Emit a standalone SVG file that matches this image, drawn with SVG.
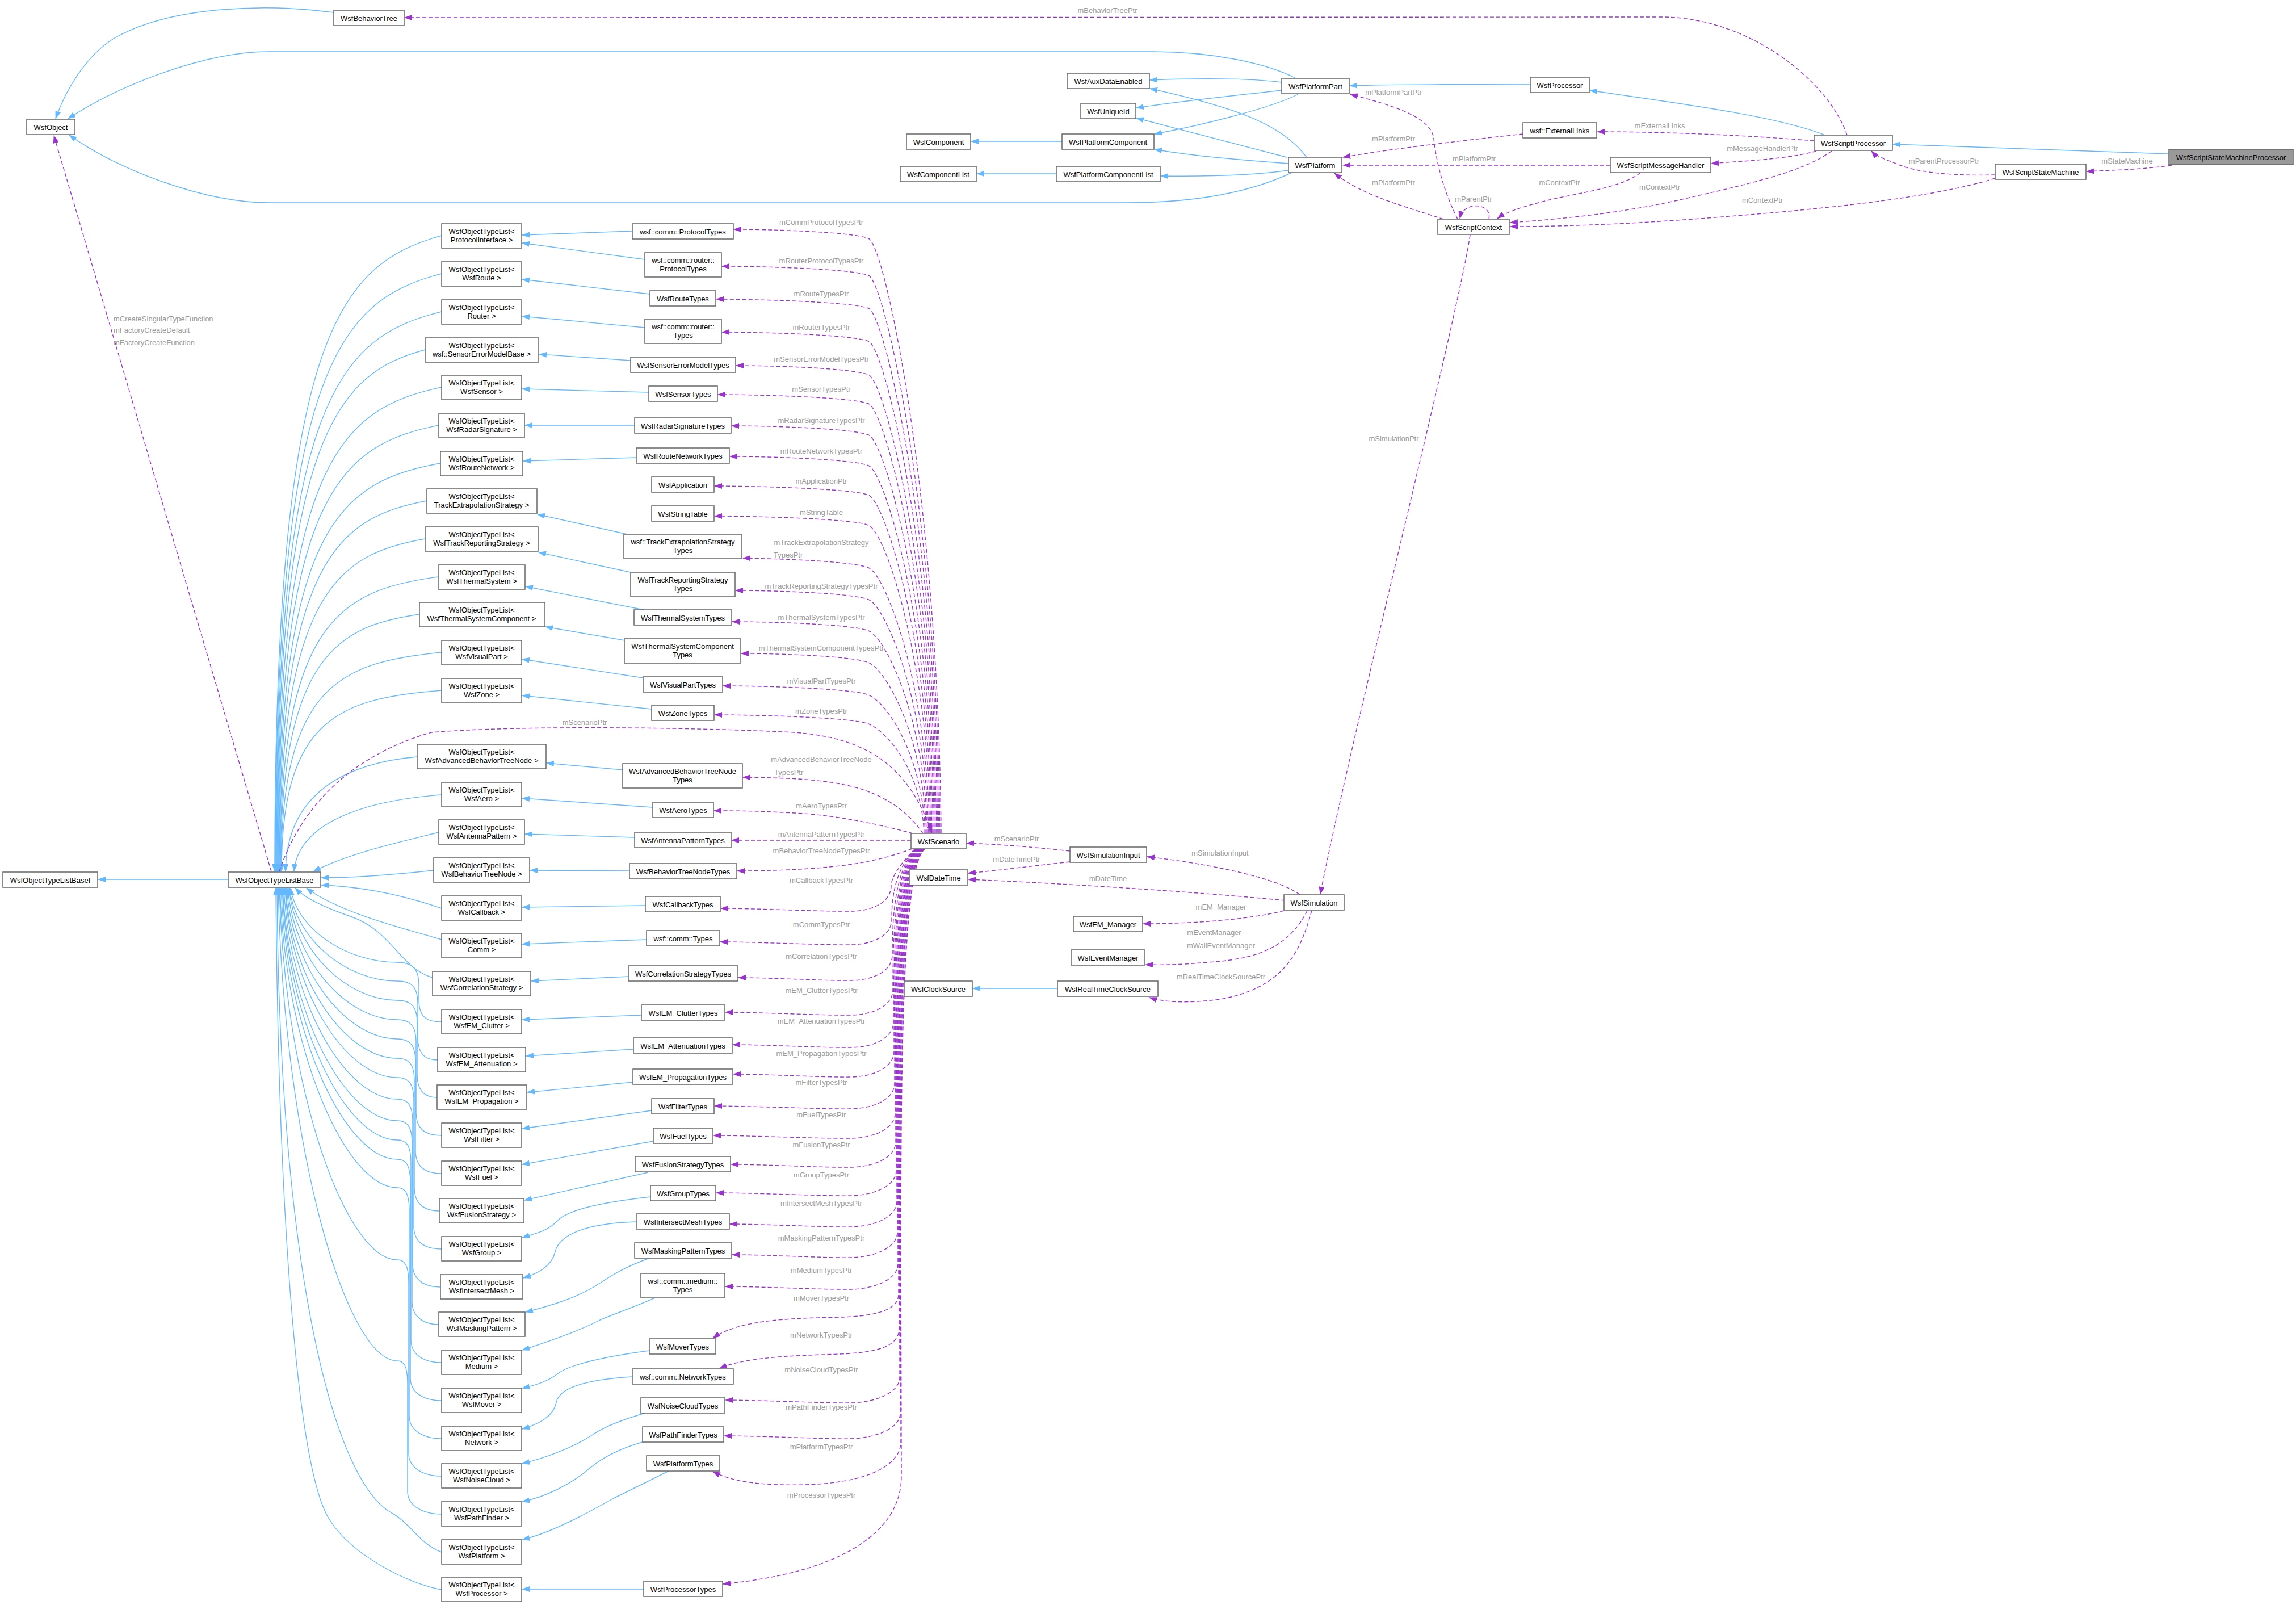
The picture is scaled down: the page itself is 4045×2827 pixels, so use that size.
<svg xmlns="http://www.w3.org/2000/svg" width="4045" height="2827" viewBox="0 0 4045 2827">
<style>
.n rect{fill:#fff;stroke:#666;stroke-width:1.5}
.n .h{fill:#999}
.n text{font-family:"Liberation Sans",Arial,sans-serif;font-size:13px;text-anchor:middle;fill:#000}
.e{fill:none;stroke:#63b8ff;stroke-width:1.4;marker-end:url(#ab)}
.d{fill:none;stroke:#9a32cd;stroke-width:1.4;stroke-dasharray:7,4;marker-end:url(#ap)}
.l{font-family:"Liberation Sans",Arial,sans-serif;font-size:13px;text-anchor:middle;fill:#9a9a9a}
.ls{font-family:"Liberation Sans",Arial,sans-serif;font-size:13px;text-anchor:start;fill:#9a9a9a}
</style>
<defs>
<marker id="ab" viewBox="0 0 14 10" refX="13" refY="5" markerWidth="14" markerHeight="10" markerUnits="userSpaceOnUse" orient="auto"><path d="M0,0 L14,5 L0,10 z" fill="#63b8ff"/></marker>
<marker id="ap" viewBox="0 0 14 10" refX="13" refY="5" markerWidth="14" markerHeight="10" markerUnits="userSpaceOnUse" orient="auto"><path d="M0,0 L14,5 L0,10 z" fill="#9a32cd"/></marker>
</defs>
<rect width="4045" height="2827" fill="#fff"/>
<g id="connectors">
<!-- top inheritance -->
<path class="e" d="M 588,22 C 470,6 300,10 200,68 C 150,100 115,160 98,209"/>
<path class="e" d="M 2283,138 C 2230,110 2130,91 2030,91 L 474,91 C 360,91 210,150 120,209"/>
<path class="e" d="M 2276,304 C 2200,340 2100,357 1985,357 L 474,357 C 360,357 210,300 122,238"/>
<path class="e" d="M 2258,145 C 2200,137 2100,138 2026,141"/>
<path class="e" d="M 2258,159 C 2180,168 2080,178 2002,190"/>
<path class="e" d="M 2287,166 C 2240,190 2120,220 2034,236"/>
<path class="e" d="M 2302,277 C 2260,220 2180,190 2026,156"/>
<path class="e" d="M 2267,277 L 2002,208"/>
<path class="e" d="M 2270,288 C 2200,283 2100,275 2034,263"/>
<path class="e" d="M 2270,300 C 2200,310 2120,311 2045,310"/>
<path class="e" d="M 1871,249 L 1711,249"/>
<path class="e" d="M 1861,306 L 1721,306"/>
<path class="e" d="M 2696,149 C 2600,148 2450,149 2378,151"/>
<path class="e" d="M 3215,238 C 3120,200 2900,175 2801,159"/>
<path class="e" d="M 3821,271 L 3335,254"/>
<path class="e" d="M 402,1549 L 173,1549"/>
<path class="e" d="M 1863,1741 L 1714,1741"/>
<!-- types to lists -->
<path class="e" d="M 1114,407 L 920,414"/>
<path class="e" d="M 1136,457 L 920,428"/>
<path class="e" d="M 1145,518 L 920,492"/>
<path class="e" d="M 1136,577 L 920,557"/>
<path class="e" d="M 1111,635 L 950,624"/>
<path class="e" d="M 1143,691 L 920,685"/>
<path class="e" d="M 1118,749 L 925,749"/>
<path class="e" d="M 1121,806 L 922,812"/>
<path class="e" d="M 1105,941 L 947,906"/>
<path class="e" d="M 1111,1008 L 949,973"/>
<path class="e" d="M 1134,1074 L 926,1033"/>
<path class="e" d="M 1101,1128 L 961,1104"/>
<path class="e" d="M 1133,1194 L 920,1161"/>
<path class="e" d="M 1148,1249 L 920,1225"/>
<path class="e" d="M 1097,1356 L 963,1344"/>
<path class="e" d="M 1150,1422 L 920,1406"/>
<path class="e" d="M 1118,1475 L 925,1469"/>
<path class="e" d="M 1109,1534 L 934,1533"/>
<path class="e" d="M 1137,1595 L 920,1598"/>
<path class="e" d="M 1139,1655 L 920,1663"/>
<path class="e" d="M 1107,1720 L 936,1728"/>
<path class="e" d="M 1130,1788 L 920,1796"/>
<path class="e" d="M 1116,1848 L 927,1860"/>
<path class="e" d="M 1115,1906 L 929,1924"/>
<path class="e" d="M 1148,1956 L 920,1988"/>
<path class="e" d="M 1151,2010 L 920,2051"/>
<path class="e" d="M 1142,2065 L 924,2114"/>
<path class="e" d="M 1146,2108 C 1060,2118 1000,2130 980,2152 C 965,2168 945,2172 920,2180"/>
<path class="e" d="M 1121,2152 C 1030,2155 985,2175 978,2205 C 972,2230 950,2242 922,2251"/>
<path class="e" d="M 1144,2216 C 1100,2232 1080,2245 1057,2260 C 1020,2285 970,2300 926,2311"/>
<path class="e" d="M 1154,2286 C 1110,2305 1080,2315 1057,2325 C 1020,2345 960,2365 920,2378"/>
<path class="e" d="M 1144,2379 C 1060,2390 1000,2405 982,2420 C 965,2433 945,2440 920,2445"/>
<path class="e" d="M 1114,2425 C 1030,2430 985,2445 980,2470 C 975,2495 950,2508 920,2517"/>
<path class="e" d="M 1136,2489 C 1100,2500 1070,2510 1044,2527 C 1010,2550 960,2568 920,2578"/>
<path class="e" d="M 1132,2540 C 1090,2552 1060,2568 1038,2587 C 1005,2615 960,2637 920,2645"/>
<path class="e" d="M 1178,2591 C 1140,2610 1110,2625 1083,2638 C 1030,2668 970,2700 920,2712"/>
<path class="e" d="M 1134,2799 L 920,2799"/>
<!-- lists to base -->
<path class="e" d="M 778,415 C 600,465 484,583 484,1535"/>
<path class="e" d="M 778,482 C 600,529 485,640 485,1535"/>
<path class="e" d="M 778,549 C 600,593 486,697 486,1535"/>
<path class="e" d="M 749,616 C 600,657 487,754 487,1535"/>
<path class="e" d="M 778,682 C 600,720 488,810 488,1535"/>
<path class="e" d="M 773,749 C 600,784 489,867 489,1535"/>
<path class="e" d="M 776,816 C 600,848 490,924 490,1535"/>
<path class="e" d="M 752,882 C 600,911 491,980 491,1535"/>
<path class="e" d="M 749,949 C 600,975 492,1037 492,1535"/>
<path class="e" d="M 772,1016 C 600,1039 493,1094 493,1535"/>
<path class="e" d="M 739,1082 C 600,1102 494,1150 494,1535"/>
<path class="e" d="M 778,1149 C 600,1166 495,1207 495,1535"/>
<path class="e" d="M 778,1216 C 600,1230 496,1264 496,1535"/>
<path class="e" d="M 735,1333 C 620,1343 505,1390 503,1535"/>
<path class="e" d="M 778,1400 C 640,1410 525,1450 518,1535"/>
<path class="e" d="M 773,1466 C 720,1480 620,1500 552,1535"/>
<path class="e" d="M 764,1533 C 700,1540 620,1546 566,1546"/>
<path class="e" d="M 778,1600 C 720,1580 650,1562 566,1559"/>
<path class="e" d="M 778,1655 C 730,1640 600,1610 540,1564"/>
<path class="e" d="M 762,1722 C 705,1705 690,1640 620,1615 C 570,1598 535,1580 520,1564"/>
<path class="e" d="M 778,1800 C 745,1800 738,1785 738,1760 L 738,1735 C 738,1705 725,1695 700,1695 C 610,1695 522,1636 512,1564"/>
<path class="e" d="M 771,1867 C 745,1867 736,1852 736,1827 L 736,1768 C 736,1738 725,1728 700,1728 C 610,1728 520,1654 510,1564"/>
<path class="e" d="M 770,1933 C 745,1933 735,1918 735,1893 L 735,1802 C 735,1772 724,1762 700,1762 C 610,1762 519,1673 509,1564"/>
<path class="e" d="M 778,2000 C 745,2000 733,1985 733,1960 L 733,1836 C 733,1806 722,1796 700,1796 C 610,1796 517,1692 507,1564"/>
<path class="e" d="M 778,2067 C 745,2067 732,2052 732,2027 L 732,1870 C 732,1840 721,1830 700,1830 C 610,1830 515,1710 505,1564"/>
<path class="e" d="M 774,2133 C 745,2133 730,2118 730,2093 L 730,1904 C 730,1874 720,1864 700,1864 C 610,1864 513,1729 503,1564"/>
<path class="e" d="M 778,2200 C 745,2200 729,2185 729,2160 L 729,1938 C 729,1908 719,1898 700,1898 C 610,1898 512,1748 502,1564"/>
<path class="e" d="M 776,2267 C 745,2267 727,2252 727,2227 L 727,1976 C 727,1946 718,1936 700,1936 C 610,1936 510,1769 500,1564"/>
<path class="e" d="M 773,2333 C 745,2333 726,2318 726,2293 L 726,2014 C 726,1984 717,1974 700,1974 C 610,1974 508,1790 498,1564"/>
<path class="e" d="M 778,2400 C 745,2400 724,2385 724,2360 L 724,2048 C 724,2018 716,2008 700,2008 C 610,2008 507,1808 497,1564"/>
<path class="e" d="M 778,2467 C 745,2467 723,2452 723,2427 L 723,2082 C 723,2052 715,2042 700,2042 C 610,2042 505,1827 495,1564"/>
<path class="e" d="M 778,2534 C 745,2534 721,2519 721,2494 L 721,2132 C 721,2102 714,2092 700,2092 C 610,2092 503,1854 493,1564"/>
<path class="e" d="M 778,2600 C 745,2600 720,2585 720,2560 L 720,2259 C 720,2229 713,2219 700,2219 C 610,2219 502,1924 492,1564"/>
<path class="e" d="M 778,2667 C 745,2667 718,2652 718,2627 L 718,2437 C 718,2407 712,2397 700,2397 C 610,2397 500,2022 490,1564"/>
<path class="e" d="M 778,2734 C 740,2720 720,2680 690,2665 C 590,2610 492,2250 488,1564"/>
<path class="e" d="M 778,2800 C 720,2790 620,2740 580,2676 C 520,2580 490,2100 486,1564"/>
<!-- dashed usage edges, top -->
<path class="d" d="M 3254,238 C 3225,150 3090,32 2930,30 L 713,31"/>
<path class="d" d="M 2568,386 C 2540,330 2530,280 2526,245 C 2522,205 2450,185 2379,166"/>
<path class="d" d="M 2683,236 C 2600,245 2450,262 2366,277"/>
<path class="d" d="M 2837,291 L 2366,291"/>
<path class="d" d="M 2543,386 C 2480,365 2400,345 2351,305"/>
<path class="d" d="M 2623,386 C 2630,358 2578,352 2572,385"/>
<path class="d" d="M 2890,304 C 2860,330 2780,340 2730,352 C 2690,362 2655,372 2638,385"/>
<path class="d" d="M 3227,266 C 3180,300 3100,320 2968,350 C 2860,375 2760,385 2661,392"/>
<path class="d" d="M 3515,314 C 3400,350 3200,370 2968,387 C 2840,396 2740,399 2661,399"/>
<path class="d" d="M 3196,248 C 3100,240 2950,232 2814,232"/>
<path class="d" d="M 3200,266 C 3150,280 3080,283 3015,288"/>
<path class="d" d="M 3515,308 C 3450,310 3380,305 3345,290 C 3320,280 3305,275 3297,266"/>
<path class="d" d="M 3826,291 C 3780,298 3720,300 3676,302"/>
<path class="d" d="M 2590,414 C 2570,550 2380,1300 2326,1575"/>
<!-- simulation -->
<path class="d" d="M 2290,1576 C 2250,1545 2120,1520 2021,1509"/>
<path class="d" d="M 2264,1586 C 2100,1570 1850,1555 1706,1549"/>
<path class="d" d="M 2262,1604 C 2200,1620 2100,1627 2014,1627"/>
<path class="d" d="M 2303,1604 C 2280,1650 2240,1685 2150,1693 C 2090,1699 2050,1700 2018,1699"/>
<path class="d" d="M 2311,1604 C 2290,1680 2260,1740 2150,1760 C 2090,1768 2050,1765 2025,1757"/>
<path class="d" d="M 1885,1499 C 1820,1492 1760,1487 1703,1485"/>
<path class="d" d="M 1885,1518 C 1820,1525 1760,1533 1706,1538"/>
<!-- base -->
<path class="d" d="M 478,1535 L 95,239"/>
<path class="d" d="M 492,1535 C 530,1420 620,1330 760,1290 C 900,1278 1200,1280 1400,1290 C 1530,1300 1600,1350 1642,1467"/>
<!-- scenario to types -->
<path class="d" d="M 1658,1468 C 1653,882 1560,432 1530,420 S 1352,404 1293,404"/>
<path class="d" d="M 1656,1468 C 1651,918 1560,497 1530,485 S 1331,469 1272,469"/>
<path class="d" d="M 1654,1468 C 1649,950 1560,555 1530,543 S 1321,527 1262,527"/>
<path class="d" d="M 1652,1468 C 1647,982 1560,613 1530,601 S 1331,585 1272,585"/>
<path class="d" d="M 1650,1468 C 1645,1014 1560,672 1530,660 S 1356,644 1297,644"/>
<path class="d" d="M 1648,1468 C 1643,1042 1560,723 1530,711 S 1324,695 1265,695"/>
<path class="d" d="M 1646,1468 C 1641,1073 1560,778 1530,766 S 1348,750 1289,750"/>
<path class="d" d="M 1644,1468 C 1639,1102 1560,832 1530,820 S 1345,804 1286,804"/>
<path class="d" d="M 1642,1468 C 1637,1131 1560,884 1530,872 S 1318,856 1259,856"/>
<path class="d" d="M 1640,1468 C 1635,1160 1560,937 1530,925 S 1318,909 1259,909"/>
<path class="d" d="M 1638,1468 C 1633,1201 1560,1012 1530,1000 S 1368,984 1309,983"/>
<path class="d" d="M 1636,1468 C 1631,1232 1560,1068 1530,1056 S 1355,1040 1296,1040"/>
<path class="d" d="M 1634,1468 C 1629,1262 1560,1123 1530,1111 S 1349,1095 1290,1095"/>
<path class="d" d="M 1632,1468 C 1627,1293 1560,1179 1530,1167 S 1365,1151 1306,1151"/>
<path class="d" d="M 1630,1468 C 1625,1325 1560,1236 1530,1224 S 1333,1208 1274,1208"/>
<path class="d" d="M 1628,1468 C 1623,1353 1560,1287 1530,1275 S 1318,1259 1259,1259"/>
<path class="d" d="M 1626,1468 C 1600,1430 1560,1400 1500,1385 S 1360,1370 1309,1369"/>
<path class="d" d="M 1608,1468 C 1560,1455 1480,1436 1400,1432 S 1300,1428 1258,1428"/>
<path class="d" d="M 1605,1480 L 1289,1480"/>
<path class="d" d="M 1607,1495 C 1580,1505 1540,1518 1480,1525 S 1350,1534 1299,1534"/>
<path class="d" d="M 1612,1495 C 1578,1530 1570,1550 1570,1560 C 1570,1588 1540,1604 1500,1605 S 1330,1600 1270,1600"/>
<path class="d" d="M 1613,1495 C 1578,1530 1571,1577 1571,1619 C 1571,1647 1540,1663 1500,1664 S 1329,1659 1269,1659"/>
<path class="d" d="M 1614,1495 C 1578,1530 1572,1608 1572,1682 C 1572,1710 1540,1726 1500,1727 S 1361,1722 1301,1722"/>
<path class="d" d="M 1615,1495 C 1578,1530 1573,1639 1573,1743 C 1573,1771 1540,1787 1500,1788 S 1338,1783 1278,1783"/>
<path class="d" d="M 1616,1495 C 1578,1530 1574,1667 1574,1800 C 1574,1828 1540,1844 1500,1845 S 1351,1840 1291,1840"/>
<path class="d" d="M 1617,1495 C 1578,1530 1575,1693 1575,1852 C 1575,1880 1540,1896 1500,1897 S 1352,1892 1292,1892"/>
<path class="d" d="M 1618,1495 C 1578,1530 1576,1721 1576,1908 C 1576,1936 1540,1952 1500,1953 S 1319,1948 1259,1948"/>
<path class="d" d="M 1619,1495 C 1578,1530 1577,1747 1577,1960 C 1577,1988 1540,2004 1500,2005 S 1317,2000 1257,2000"/>
<path class="d" d="M 1620,1495 C 1578,1530 1578,1773 1578,2011 C 1578,2039 1540,2055 1500,2056 S 1348,2051 1288,2051"/>
<path class="d" d="M 1621,1495 C 1578,1530 1579,1798 1579,2061 C 1579,2089 1540,2105 1500,2106 S 1322,2101 1262,2101"/>
<path class="d" d="M 1622,1495 C 1578,1530 1580,1825 1580,2116 C 1580,2144 1540,2160 1500,2161 S 1346,2156 1286,2156"/>
<path class="d" d="M 1623,1495 C 1578,1530 1581,1852 1581,2170 C 1581,2198 1540,2214 1500,2215 S 1350,2210 1290,2210"/>
<path class="d" d="M 1624,1495 C 1578,1530 1582,1880 1582,2226 C 1582,2254 1540,2270 1500,2271 S 1338,2266 1278,2266"/>
<path class="d" d="M 1625,1495 C 1578,1530 1583,1900 1583,2280 C 1583,2305 1550,2318 1480,2320 C 1380,2322 1300,2326 1256,2357"/>
<path class="d" d="M 1626,1495 C 1578,1530 1584,1950 1584,2340 C 1584,2370 1550,2382 1480,2385 C 1380,2388 1310,2392 1268,2410"/>
<path class="d" d="M 1627,1495 C 1578,1530 1585,1980 1585,2426 C 1585,2454 1540,2470 1500,2471 S 1338,2466 1278,2466"/>
<path class="d" d="M 1628,1495 C 1578,1530 1586,2012 1586,2489 C 1586,2517 1540,2533 1500,2534 S 1336,2529 1276,2529"/>
<path class="d" d="M 1629,1495 C 1578,1530 1587,2100 1587,2540 C 1587,2580 1530,2612 1420,2615 C 1340,2617 1290,2610 1256,2592"/>
<path class="d" d="M 1630,1495 C 1578,1530 1588,2100 1588,2600 C 1588,2700 1480,2770 1274,2790"/>
<!-- labels -->
<text class="l" x="1951" y="23">mBehaviorTreePtr</text>
<text class="l" x="2455" y="167">mPlatformPartPtr</text>
<text class="l" x="2455" y="248.5">mPlatformPtr</text>
<text class="l" x="2597" y="283.5">mPlatformPtr</text>
<text class="l" x="2455" y="326">mPlatformPtr</text>
<text class="l" x="2596" y="354.5">mParentPtr</text>
<text class="l" x="2747.5" y="326">mContextPtr</text>
<text class="l" x="2924" y="333.5">mContextPtr</text>
<text class="l" x="3105" y="356.5">mContextPtr</text>
<text class="l" x="2924" y="226">mExternalLinks</text>
<text class="l" x="3105" y="265.5">mMessageHandlerPtr</text>
<text class="l" x="3425" y="287.5">mParentProcessorPtr</text>
<text class="l" x="3747.5" y="288">mStateMachine</text>
<text class="l" x="2455.5" y="777">mSimulationPtr</text>
<text class="l" x="2149.5" y="1507">mSimulationInput</text>
<text class="l" x="1952" y="1552">mDateTime</text>
<text class="l" x="2151" y="1602">mEM_Manager</text>
<text class="l" x="2139" y="1647">mEventManager</text>
<text class="l" x="2151" y="1669.5">mWallEventManager</text>
<text class="l" x="2151" y="1725">mRealTimeClockSourcePtr</text>
<text class="l" x="1791" y="1482">mScenarioPtr</text>
<text class="l" x="1791" y="1518">mDateTimePtr</text>
<text class="ls" x="200" y="565.5">mCreateSingularTypeFunction</text>
<text class="ls" x="200" y="586">mFactoryCreateDefault</text>
<text class="ls" x="200" y="607.5">mFactoryCreateFunction</text>
<text class="l" x="1030" y="1277">mScenarioPtr</text>
<text class="l" x="1447" y="396">mCommProtocolTypesPtr</text>
<text class="l" x="1447" y="464">mRouterProtocolTypesPtr</text>
<text class="l" x="1447" y="522">mRouteTypesPtr</text>
<text class="l" x="1447" y="580.5">mRouterTypesPtr</text>
<text class="l" x="1447" y="637">mSensorErrorModelTypesPtr</text>
<text class="l" x="1447" y="690">mSensorTypesPtr</text>
<text class="l" x="1447" y="745">mRadarSignatureTypesPtr</text>
<text class="l" x="1447" y="799">mRouteNetworkTypesPtr</text>
<text class="l" x="1447" y="851.5">mApplicationPtr</text>
<text class="l" x="1447" y="907">mStringTable</text>
<text class="l" x="1447" y="959.5">mTrackExtrapolationStrategy</text>
<text class="ls" x="1363" y="981.5">TypesPtr</text>
<text class="l" x="1447" y="1037">mTrackReportingStrategyTypesPtr</text>
<text class="l" x="1447" y="1092">mThermalSystemTypesPtr</text>
<text class="l" x="1447" y="1146">mThermalSystemComponentTypesPtr</text>
<text class="l" x="1447" y="1203.5">mVisualPartTypesPtr</text>
<text class="l" x="1447" y="1256.5">mZoneTypesPtr</text>
<text class="l" x="1447" y="1342">mAdvancedBehaviorTreeNode</text>
<text class="ls" x="1364" y="1364.5">TypesPtr</text>
<text class="l" x="1447" y="1423.5">mAeroTypesPtr</text>
<text class="l" x="1447" y="1473.5">mAntennaPatternTypesPtr</text>
<text class="l" x="1447" y="1503">mBehaviorTreeNodeTypesPtr</text>
<text class="l" x="1447" y="1555">mCallbackTypesPtr</text>
<text class="l" x="1447" y="1633">mCommTypesPtr</text>
<text class="l" x="1447" y="1689">mCorrelationTypesPtr</text>
<text class="l" x="1447" y="1749">mEM_ClutterTypesPtr</text>
<text class="l" x="1447" y="1803">mEM_AttenuationTypesPtr</text>
<text class="l" x="1447" y="1859.5">mEM_PropagationTypesPtr</text>
<text class="l" x="1447" y="1911">mFilterTypesPtr</text>
<text class="l" x="1447" y="1967.5">mFuelTypesPtr</text>
<text class="l" x="1447" y="2021">mFusionTypesPtr</text>
<text class="l" x="1447" y="2073.5">mGroupTypesPtr</text>
<text class="l" x="1447" y="2123.5">mIntersectMeshTypesPtr</text>
<text class="l" x="1447" y="2185">mMaskingPatternTypesPtr</text>
<text class="l" x="1447" y="2241.5">mMediumTypesPtr</text>
<text class="l" x="1447" y="2290.5">mMoverTypesPtr</text>
<text class="l" x="1447" y="2355.5">mNetworkTypesPtr</text>
<text class="l" x="1447" y="2417">mNoiseCloudTypesPtr</text>
<text class="l" x="1447" y="2483">mPathFinderTypesPtr</text>
<text class="l" x="1447" y="2552.5">mPlatformTypesPtr</text>
<text class="l" x="1447" y="2637.5">mProcessorTypesPtr</text>
</g>
<!-- nodes -->
<g id="n-WsfBehaviorTree" class="n"><rect x="588" y="18" width="124" height="27"/><text x="650" y="36.5">WsfBehaviorTree</text></g>
<g id="n-WsfObject" class="n"><rect x="47" y="210" width="85" height="27"/><text x="89.5" y="228.5">WsfObject</text></g>
<g id="n-WsfAuxDataEnabled" class="n"><rect x="1880" y="129" width="145" height="27"/><text x="1952.5" y="147.5">WsfAuxDataEnabled</text></g>
<g id="n-WsfUniqueId" class="n"><rect x="1904" y="182" width="97" height="27"/><text x="1952.5" y="200.5">WsfUniqueId</text></g>
<g id="n-WsfComponent" class="n"><rect x="1597" y="236" width="113" height="27"/><text x="1653.5" y="254.5">WsfComponent</text></g>
<g id="n-WsfPlatformComponent" class="n"><rect x="1871" y="236" width="162" height="27"/><text x="1952" y="254.5">WsfPlatformComponent</text></g>
<g id="n-WsfComponentList" class="n"><rect x="1586" y="293" width="134" height="27"/><text x="1653" y="311.5">WsfComponentList</text></g>
<g id="n-WsfPlatformComponentList" class="n"><rect x="1861" y="293" width="183" height="27"/><text x="1952.5" y="311.5">WsfPlatformComponentList</text></g>
<g id="n-WsfPlatformPart" class="n"><rect x="2258" y="138" width="119" height="27"/><text x="2317.5" y="156.5">WsfPlatformPart</text></g>
<g id="n-WsfPlatform" class="n"><rect x="2270" y="277" width="94" height="27"/><text x="2317" y="295.5">WsfPlatform</text></g>
<g id="n-WsfProcessor" class="n"><rect x="2696" y="136" width="104" height="27"/><text x="2748" y="154.5">WsfProcessor</text></g>
<g id="n-ExternalLinks" class="n"><rect x="2683" y="216" width="130" height="27"/><text x="2748" y="234.5">wsf::ExternalLinks</text></g>
<g id="n-WsfScriptMessageHandler" class="n"><rect x="2837" y="277" width="177" height="27"/><text x="2925.5" y="295.5">WsfScriptMessageHandler</text></g>
<g id="n-WsfScriptProcessor" class="n"><rect x="3196" y="238" width="138" height="27"/><text x="3265" y="256.5">WsfScriptProcessor</text></g>
<g id="n-WsfScriptStateMachine" class="n"><rect x="3515" y="289" width="160" height="27"/><text x="3595" y="307.5">WsfScriptStateMachine</text></g>
<g id="n-WsfScriptStateMachineProcessor" class="n"><rect class="h" x="3821" y="263" width="219" height="27"/><text x="3930.5" y="281.5">WsfScriptStateMachineProcessor</text></g>
<g id="n-WsfScriptContext" class="n"><rect x="2533" y="386" width="126" height="27"/><text x="2596" y="404.5">WsfScriptContext</text></g>
<g id="n-WsfScenario" class="n"><rect x="1605" y="1468" width="97" height="27"/><text x="1653.5" y="1486.5">WsfScenario</text></g>
<g id="n-WsfDateTime" class="n"><rect x="1602" y="1532" width="103" height="27"/><text x="1653.5" y="1550.5">WsfDateTime</text></g>
<g id="n-WsfClockSource" class="n"><rect x="1593" y="1728" width="120" height="27"/><text x="1653" y="1746.5">WsfClockSource</text></g>
<g id="n-WsfSimulationInput" class="n"><rect x="1885" y="1492" width="135" height="27"/><text x="1952.5" y="1510.5">WsfSimulationInput</text></g>
<g id="n-WsfEM_Manager" class="n"><rect x="1891" y="1614" width="122" height="27"/><text x="1952" y="1632.5">WsfEM_Manager</text></g>
<g id="n-WsfEventManager" class="n"><rect x="1887" y="1673" width="130" height="27"/><text x="1952" y="1691.5">WsfEventManager</text></g>
<g id="n-WsfRealTimeClockSource" class="n"><rect x="1863" y="1728" width="177" height="27"/><text x="1951.5" y="1746.5">WsfRealTimeClockSource</text></g>
<g id="n-WsfSimulation" class="n"><rect x="2262" y="1576" width="106" height="27"/><text x="2315" y="1594.5">WsfSimulation</text></g>
<g id="n-WsfObjectTypeListBaseI" class="n"><rect x="5" y="1536" width="167" height="27"/><text x="88.5" y="1554.5">WsfObjectTypeListBaseI</text></g>
<g id="n-WsfObjectTypeListBase" class="n"><rect x="402" y="1536" width="163" height="27"/><text x="483.5" y="1554.5">WsfObjectTypeListBase</text></g>
<!-- lists -->
<g id="n-list-ProtocolInterface" class="n"><rect x="778" y="394" width="141" height="43"/><text x="848.5" y="411.5">WsfObjectTypeList&lt;</text><text x="848.5" y="427">ProtocolInterface &gt;</text></g>
<g id="n-list-WsfRoute" class="n"><rect x="778" y="461" width="141" height="43"/><text x="848.5" y="478.5">WsfObjectTypeList&lt;</text><text x="848.5" y="494">WsfRoute &gt;</text></g>
<g id="n-list-Router" class="n"><rect x="778" y="528" width="141" height="43"/><text x="848.5" y="545.5">WsfObjectTypeList&lt;</text><text x="848.5" y="561">Router &gt;</text></g>
<g id="n-list-SensorErrorModelBase" class="n"><rect x="749" y="595" width="200" height="43"/><text x="848.5" y="612.5">WsfObjectTypeList&lt;</text><text x="848.5" y="628">wsf::SensorErrorModelBase &gt;</text></g>
<g id="n-list-WsfSensor" class="n"><rect x="778" y="661" width="141" height="43"/><text x="848.5" y="678.5">WsfObjectTypeList&lt;</text><text x="848.5" y="694">WsfSensor &gt;</text></g>
<g id="n-list-WsfRadarSignature" class="n"><rect x="773" y="728" width="151" height="43"/><text x="848.5" y="745.5">WsfObjectTypeList&lt;</text><text x="848.5" y="761">WsfRadarSignature &gt;</text></g>
<g id="n-list-WsfRouteNetwork" class="n"><rect x="776" y="795" width="145" height="43"/><text x="848.5" y="812.5">WsfObjectTypeList&lt;</text><text x="848.5" y="828">WsfRouteNetwork &gt;</text></g>
<g id="n-list-TrackExtrapolationStrategy" class="n"><rect x="752" y="861" width="194" height="43"/><text x="848.5" y="878.5">WsfObjectTypeList&lt;</text><text x="848.5" y="894">TrackExtrapolationStrategy &gt;</text></g>
<g id="n-list-WsfTrackReportingStrategy" class="n"><rect x="749" y="928" width="199" height="43"/><text x="848.5" y="945.5">WsfObjectTypeList&lt;</text><text x="848.5" y="961">WsfTrackReportingStrategy &gt;</text></g>
<g id="n-list-WsfThermalSystem" class="n"><rect x="772" y="995" width="153" height="43"/><text x="848.5" y="1012.5">WsfObjectTypeList&lt;</text><text x="848.5" y="1028">WsfThermalSystem &gt;</text></g>
<g id="n-list-WsfThermalSystemComponent" class="n"><rect x="739" y="1061" width="221" height="43"/><text x="848.5" y="1078.5">WsfObjectTypeList&lt;</text><text x="848.5" y="1094">WsfThermalSystemComponent &gt;</text></g>
<g id="n-list-WsfVisualPart" class="n"><rect x="778" y="1128" width="141" height="43"/><text x="848.5" y="1145.5">WsfObjectTypeList&lt;</text><text x="848.5" y="1161">WsfVisualPart &gt;</text></g>
<g id="n-list-WsfZone" class="n"><rect x="778" y="1195" width="141" height="43"/><text x="848.5" y="1212.5">WsfObjectTypeList&lt;</text><text x="848.5" y="1228">WsfZone &gt;</text></g>
<g id="n-list-WsfAdvancedBehaviorTreeNode" class="n"><rect x="735" y="1311" width="227" height="43"/><text x="848.5" y="1328.5">WsfObjectTypeList&lt;</text><text x="848.5" y="1344">WsfAdvancedBehaviorTreeNode &gt;</text></g>
<g id="n-list-WsfAero" class="n"><rect x="778" y="1378" width="141" height="43"/><text x="848.5" y="1395.5">WsfObjectTypeList&lt;</text><text x="848.5" y="1411">WsfAero &gt;</text></g>
<g id="n-list-WsfAntennaPattern" class="n"><rect x="773" y="1444" width="151" height="43"/><text x="848.5" y="1461.5">WsfObjectTypeList&lt;</text><text x="848.5" y="1477">WsfAntennaPattern &gt;</text></g>
<g id="n-list-WsfBehaviorTreeNode" class="n"><rect x="764" y="1511" width="169" height="43"/><text x="848.5" y="1528.5">WsfObjectTypeList&lt;</text><text x="848.5" y="1544">WsfBehaviorTreeNode &gt;</text></g>
<g id="n-list-WsfCallback" class="n"><rect x="778" y="1578" width="141" height="43"/><text x="848.5" y="1595.5">WsfObjectTypeList&lt;</text><text x="848.5" y="1611">WsfCallback &gt;</text></g>
<g id="n-list-Comm" class="n"><rect x="778" y="1644" width="141" height="43"/><text x="848.5" y="1661.5">WsfObjectTypeList&lt;</text><text x="848.5" y="1677">Comm &gt;</text></g>
<g id="n-list-WsfCorrelationStrategy" class="n"><rect x="762" y="1711" width="173" height="43"/><text x="848.5" y="1728.5">WsfObjectTypeList&lt;</text><text x="848.5" y="1744">WsfCorrelationStrategy &gt;</text></g>
<g id="n-list-WsfEM_Clutter" class="n"><rect x="778" y="1778" width="141" height="43"/><text x="848.5" y="1795.5">WsfObjectTypeList&lt;</text><text x="848.5" y="1811">WsfEM_Clutter &gt;</text></g>
<g id="n-list-WsfEM_Attenuation" class="n"><rect x="771" y="1845" width="155" height="43"/><text x="848.5" y="1862.5">WsfObjectTypeList&lt;</text><text x="848.5" y="1878">WsfEM_Attenuation &gt;</text></g>
<g id="n-list-WsfEM_Propagation" class="n"><rect x="770" y="1911" width="158" height="43"/><text x="848.5" y="1928.5">WsfObjectTypeList&lt;</text><text x="848.5" y="1944">WsfEM_Propagation &gt;</text></g>
<g id="n-list-WsfFilter" class="n"><rect x="778" y="1978" width="141" height="43"/><text x="848.5" y="1995.5">WsfObjectTypeList&lt;</text><text x="848.5" y="2011">WsfFilter &gt;</text></g>
<g id="n-list-WsfFuel" class="n"><rect x="778" y="2045" width="141" height="43"/><text x="848.5" y="2062.5">WsfObjectTypeList&lt;</text><text x="848.5" y="2078">WsfFuel &gt;</text></g>
<g id="n-list-WsfFusionStrategy" class="n"><rect x="774" y="2111" width="149" height="43"/><text x="848.5" y="2128.5">WsfObjectTypeList&lt;</text><text x="848.5" y="2144">WsfFusionStrategy &gt;</text></g>
<g id="n-list-WsfGroup" class="n"><rect x="778" y="2178" width="141" height="43"/><text x="848.5" y="2195.5">WsfObjectTypeList&lt;</text><text x="848.5" y="2211">WsfGroup &gt;</text></g>
<g id="n-list-WsfIntersectMesh" class="n"><rect x="776" y="2245" width="145" height="43"/><text x="848.5" y="2262.5">WsfObjectTypeList&lt;</text><text x="848.5" y="2278">WsfIntersectMesh &gt;</text></g>
<g id="n-list-WsfMaskingPattern" class="n"><rect x="773" y="2311" width="152" height="43"/><text x="848.5" y="2328.5">WsfObjectTypeList&lt;</text><text x="848.5" y="2344">WsfMaskingPattern &gt;</text></g>
<g id="n-list-Medium" class="n"><rect x="778" y="2378" width="141" height="43"/><text x="848.5" y="2395.5">WsfObjectTypeList&lt;</text><text x="848.5" y="2411">Medium &gt;</text></g>
<g id="n-list-WsfMover" class="n"><rect x="778" y="2445" width="141" height="43"/><text x="848.5" y="2462.5">WsfObjectTypeList&lt;</text><text x="848.5" y="2478">WsfMover &gt;</text></g>
<g id="n-list-Network" class="n"><rect x="778" y="2512" width="141" height="43"/><text x="848.5" y="2529.5">WsfObjectTypeList&lt;</text><text x="848.5" y="2545">Network &gt;</text></g>
<g id="n-list-WsfNoiseCloud" class="n"><rect x="778" y="2578" width="141" height="43"/><text x="848.5" y="2595.5">WsfObjectTypeList&lt;</text><text x="848.5" y="2611">WsfNoiseCloud &gt;</text></g>
<g id="n-list-WsfPathFinder" class="n"><rect x="778" y="2645" width="141" height="43"/><text x="848.5" y="2662.5">WsfObjectTypeList&lt;</text><text x="848.5" y="2678">WsfPathFinder &gt;</text></g>
<g id="n-list-WsfPlatform" class="n"><rect x="778" y="2712" width="141" height="43"/><text x="848.5" y="2729.5">WsfObjectTypeList&lt;</text><text x="848.5" y="2745">WsfPlatform &gt;</text></g>
<g id="n-list-WsfProcessor" class="n"><rect x="778" y="2778" width="141" height="43"/><text x="848.5" y="2795.5">WsfObjectTypeList&lt;</text><text x="848.5" y="2811">WsfProcessor &gt;</text></g>
<!-- types -->
<g id="n-t-commProtocolTypes" class="n"><rect x="1114" y="394" width="178" height="27"/><text x="1203" y="412.5">wsf::comm::ProtocolTypes</text></g>
<g id="n-t-routerProtocolTypes" class="n"><rect x="1136" y="445" width="135" height="43"/><text x="1203.5" y="462.5">wsf::comm::router::</text><text x="1203.5" y="478">ProtocolTypes</text></g>
<g id="n-t-WsfRouteTypes" class="n"><rect x="1145" y="512" width="116" height="27"/><text x="1203" y="530.5">WsfRouteTypes</text></g>
<g id="n-t-routerTypes" class="n"><rect x="1136" y="562" width="135" height="43"/><text x="1203.5" y="579.5">wsf::comm::router::</text><text x="1203.5" y="595">Types</text></g>
<g id="n-t-WsfSensorErrorModelTypes" class="n"><rect x="1111" y="629" width="185" height="27"/><text x="1203.5" y="647.5">WsfSensorErrorModelTypes</text></g>
<g id="n-t-WsfSensorTypes" class="n"><rect x="1143" y="680" width="121" height="27"/><text x="1203.5" y="698.5">WsfSensorTypes</text></g>
<g id="n-t-WsfRadarSignatureTypes" class="n"><rect x="1118" y="736" width="170" height="27"/><text x="1203" y="754.5">WsfRadarSignatureTypes</text></g>
<g id="n-t-WsfRouteNetworkTypes" class="n"><rect x="1121" y="789" width="164" height="27"/><text x="1203" y="807.5">WsfRouteNetworkTypes</text></g>
<g id="n-t-WsfApplication" class="n"><rect x="1148" y="840" width="110" height="27"/><text x="1203" y="858.5">WsfApplication</text></g>
<g id="n-t-WsfStringTable" class="n"><rect x="1148" y="891" width="110" height="27"/><text x="1203" y="909.5">WsfStringTable</text></g>
<g id="n-t-TrackExtrapolationStrategyTypes" class="n"><rect x="1099" y="941" width="208" height="43"/><text x="1203" y="958.5">wsf::TrackExtrapolationStrategy</text><text x="1203" y="974">Types</text></g>
<g id="n-t-WsfTrackReportingStrategyTypes" class="n"><rect x="1111" y="1008" width="184" height="43"/><text x="1203" y="1025.5">WsfTrackReportingStrategy</text><text x="1203" y="1041">Types</text></g>
<g id="n-t-WsfThermalSystemTypes" class="n"><rect x="1117" y="1074" width="172" height="27"/><text x="1203" y="1092.5">WsfThermalSystemTypes</text></g>
<g id="n-t-WsfThermalSystemComponentTypes" class="n"><rect x="1100" y="1125" width="205" height="43"/><text x="1202.5" y="1142.5">WsfThermalSystemComponent</text><text x="1202.5" y="1158">Types</text></g>
<g id="n-t-WsfVisualPartTypes" class="n"><rect x="1133" y="1192" width="140" height="27"/><text x="1203" y="1210.5">WsfVisualPartTypes</text></g>
<g id="n-t-WsfZoneTypes" class="n"><rect x="1148" y="1242" width="110" height="27"/><text x="1203" y="1260.5">WsfZoneTypes</text></g>
<g id="n-t-WsfAdvancedBehaviorTreeNodeTypes" class="n"><rect x="1097" y="1345" width="211" height="43"/><text x="1202.5" y="1362.5">WsfAdvancedBehaviorTreeNode</text><text x="1202.5" y="1378">Types</text></g>
<g id="n-t-WsfAeroTypes" class="n"><rect x="1150" y="1413" width="107" height="27"/><text x="1203.5" y="1431.5">WsfAeroTypes</text></g>
<g id="n-t-WsfAntennaPatternTypes" class="n"><rect x="1118" y="1466" width="170" height="27"/><text x="1203" y="1484.5">WsfAntennaPatternTypes</text></g>
<g id="n-t-WsfBehaviorTreeNodeTypes" class="n"><rect x="1109" y="1521" width="189" height="27"/><text x="1203.5" y="1539.5">WsfBehaviorTreeNodeTypes</text></g>
<g id="n-t-WsfCallbackTypes" class="n"><rect x="1137" y="1579" width="132" height="27"/><text x="1203" y="1597.5">WsfCallbackTypes</text></g>
<g id="n-t-commTypes" class="n"><rect x="1139" y="1639" width="129" height="27"/><text x="1203.5" y="1657.5">wsf::comm::Types</text></g>
<g id="n-t-WsfCorrelationStrategyTypes" class="n"><rect x="1107" y="1701" width="193" height="27"/><text x="1203.5" y="1719.5">WsfCorrelationStrategyTypes</text></g>
<g id="n-t-WsfEM_ClutterTypes" class="n"><rect x="1130" y="1770" width="147" height="27"/><text x="1203.5" y="1788.5">WsfEM_ClutterTypes</text></g>
<g id="n-t-WsfEM_AttenuationTypes" class="n"><rect x="1116" y="1828" width="174" height="27"/><text x="1203" y="1846.5">WsfEM_AttenuationTypes</text></g>
<g id="n-t-WsfEM_PropagationTypes" class="n"><rect x="1115" y="1883" width="176" height="27"/><text x="1203" y="1901.5">WsfEM_PropagationTypes</text></g>
<g id="n-t-WsfFilterTypes" class="n"><rect x="1148" y="1935" width="110" height="27"/><text x="1203" y="1953.5">WsfFilterTypes</text></g>
<g id="n-t-WsfFuelTypes" class="n"><rect x="1151" y="1987" width="105" height="27"/><text x="1203.5" y="2005.5">WsfFuelTypes</text></g>
<g id="n-t-WsfFusionStrategyTypes" class="n"><rect x="1119" y="2037" width="168" height="27"/><text x="1203" y="2055.5">WsfFusionStrategyTypes</text></g>
<g id="n-t-WsfGroupTypes" class="n"><rect x="1146" y="2088" width="115" height="27"/><text x="1203.5" y="2106.5">WsfGroupTypes</text></g>
<g id="n-t-WsfIntersectMeshTypes" class="n"><rect x="1121" y="2138" width="164" height="27"/><text x="1203" y="2156.5">WsfIntersectMeshTypes</text></g>
<g id="n-t-WsfMaskingPatternTypes" class="n"><rect x="1118" y="2189" width="171" height="27"/><text x="1203.5" y="2207.5">WsfMaskingPatternTypes</text></g>
<g id="n-t-mediumTypes" class="n"><rect x="1129" y="2243" width="148" height="43"/><text x="1203" y="2260.5">wsf::comm::medium::</text><text x="1203" y="2276">Types</text></g>
<g id="n-t-WsfMoverTypes" class="n"><rect x="1144" y="2358" width="117" height="27"/><text x="1202.5" y="2376.5">WsfMoverTypes</text></g>
<g id="n-t-NetworkTypes" class="n"><rect x="1114" y="2411" width="178" height="27"/><text x="1203" y="2429.5">wsf::comm::NetworkTypes</text></g>
<g id="n-t-WsfNoiseCloudTypes" class="n"><rect x="1129" y="2462" width="148" height="27"/><text x="1203" y="2480.5">WsfNoiseCloudTypes</text></g>
<g id="n-t-WsfPathFinderTypes" class="n"><rect x="1132" y="2513" width="143" height="27"/><text x="1203.5" y="2531.5">WsfPathFinderTypes</text></g>
<g id="n-t-WsfPlatformTypes" class="n"><rect x="1139" y="2564" width="129" height="27"/><text x="1203.5" y="2582.5">WsfPlatformTypes</text></g>
<g id="n-t-WsfProcessorTypes" class="n"><rect x="1134" y="2785" width="139" height="27"/><text x="1203.5" y="2803.5">WsfProcessorTypes</text></g>
</svg>
